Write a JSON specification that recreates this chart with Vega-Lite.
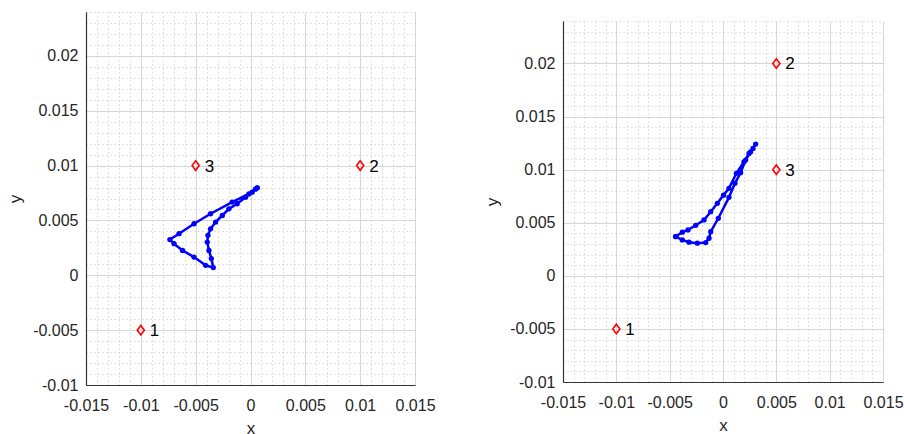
{
  "$schema": "https://vega.github.io/schema/vega-lite/v6.json",
  "padding": {"left": 6, "top": 4, "right": 0, "bottom": 0},
  "background": "white",
  "config": {
    "view": {"stroke": null},
    "font": "Liberation Sans",
    "axis": {
      "labelFont": "Liberation Sans",
      "labelFontSize": 16,
      "labelColor": "#262626",
      "titleFont": "Liberation Sans",
      "titleFontSize": 17,
      "titleFontWeight": "normal",
      "titleColor": "#262626",
      "domainColor": "#333333",
      "domainWidth": 1.2,
      "ticks": false,
      "labelOverlap": false,
      "labelFlush": false,
      "grid": true,
      "gridWidth": 1
    },
    "axisX": {"labelPadding": 12, "titlePadding": 7},
    "axisY": {"labelPadding": 8, "titlePadding": 8}
  },
  "spacing": 47,
  "datasets": {
    "curve": [
      {"panel": "A", "order": 1, "x": 0.00061, "y": 0.00797},
      {"panel": "A", "order": 2, "x": -0.00015, "y": 0.00742},
      {"panel": "A", "order": 3, "x": -0.00167, "y": 0.00667},
      {"panel": "A", "order": 4, "x": -0.00364, "y": 0.00561},
      {"panel": "A", "order": 5, "x": -0.00515, "y": 0.0047},
      {"panel": "A", "order": 6, "x": -0.00652, "y": 0.00379},
      {"panel": "A", "order": 7, "x": -0.00735, "y": 0.00326},
      {"panel": "A", "order": 8, "x": -0.00697, "y": 0.00288},
      {"panel": "A", "order": 9, "x": -0.0062, "y": 0.00227},
      {"panel": "A", "order": 10, "x": -0.00515, "y": 0.00166},
      {"panel": "A", "order": 11, "x": -0.00409, "y": 0.00091},
      {"panel": "A", "order": 12, "x": -0.00339, "y": 0.0007},
      {"panel": "A", "order": 13, "x": -0.00357, "y": 0.00152},
      {"panel": "A", "order": 14, "x": -0.00379, "y": 0.00227},
      {"panel": "A", "order": 15, "x": -0.00394, "y": 0.00303},
      {"panel": "A", "order": 16, "x": -0.00388, "y": 0.00364},
      {"panel": "A", "order": 17, "x": -0.00364, "y": 0.00424},
      {"panel": "A", "order": 18, "x": -0.00318, "y": 0.00485},
      {"panel": "A", "order": 19, "x": -0.00257, "y": 0.00545},
      {"panel": "A", "order": 20, "x": -0.00197, "y": 0.00606},
      {"panel": "A", "order": 21, "x": -0.00121, "y": 0.00652},
      {"panel": "A", "order": 22, "x": -0.00045, "y": 0.00712},
      {"panel": "A", "order": 23, "x": 0.00015, "y": 0.00758},
      {"panel": "A", "order": 24, "x": 0.00045, "y": 0.00785},
      {"panel": "A", "order": 25, "x": 0.00061, "y": 0.00797},
      {"panel": "B", "order": 1, "x": -0.00444, "y": 0.0037},
      {"panel": "B", "order": 2, "x": -0.00381, "y": 0.00411},
      {"panel": "B", "order": 3, "x": -0.00328, "y": 0.00432},
      {"panel": "B", "order": 4, "x": -0.00256, "y": 0.00476},
      {"panel": "B", "order": 5, "x": -0.00178, "y": 0.00526},
      {"panel": "B", "order": 6, "x": -0.00115, "y": 0.00604},
      {"panel": "B", "order": 7, "x": -0.00053, "y": 0.00683},
      {"panel": "B", "order": 8, "x": 0.00005, "y": 0.0076},
      {"panel": "B", "order": 9, "x": 0.00056, "y": 0.00824},
      {"panel": "B", "order": 10, "x": 0.00125, "y": 0.00965},
      {"panel": "B", "order": 11, "x": 0.00197, "y": 0.01074},
      {"panel": "B", "order": 12, "x": 0.00244, "y": 0.01153},
      {"panel": "B", "order": 13, "x": 0.00281, "y": 0.012},
      {"panel": "B", "order": 14, "x": 0.00306, "y": 0.01241},
      {"panel": "B", "order": 15, "x": 0.00259, "y": 0.01168},
      {"panel": "B", "order": 16, "x": 0.00212, "y": 0.0109},
      {"panel": "B", "order": 17, "x": 0.00165, "y": 0.00971},
      {"panel": "B", "order": 18, "x": 0.00112, "y": 0.00871},
      {"panel": "B", "order": 19, "x": 0.00056, "y": 0.00739},
      {"panel": "B", "order": 20, "x": -0.00044, "y": 0.00542},
      {"panel": "B", "order": 21, "x": -0.00115, "y": 0.00416},
      {"panel": "B", "order": 22, "x": -0.00131, "y": 0.00354},
      {"panel": "B", "order": 23, "x": -0.00162, "y": 0.00313},
      {"panel": "B", "order": 24, "x": -0.00241, "y": 0.00307},
      {"panel": "B", "order": 25, "x": -0.00319, "y": 0.00317},
      {"panel": "B", "order": 26, "x": -0.00382, "y": 0.00338},
      {"panel": "B", "order": 27, "x": -0.00444, "y": 0.0037}
    ],
    "anchors": [
      {"panel": "A", "x": -0.01, "y": -0.005, "label": "1"},
      {"panel": "A", "x": 0.01, "y": 0.01, "label": "2"},
      {"panel": "A", "x": -0.005, "y": 0.01, "label": "3"},
      {"panel": "B", "x": -0.01, "y": -0.005, "label": "1"},
      {"panel": "B", "x": 0.005, "y": 0.02, "label": "2"},
      {"panel": "B", "x": 0.005, "y": 0.01, "label": "3"}
    ]
  },
  "hconcat": [
    {
      "width": 329,
      "height": 373,
      "encoding": {
        "x": {
          "field": "x", "type": "quantitative", "title": "x",
          "scale": {"domain": [-0.015, 0.015], "nice": false, "zero": false},
          "axis": {
            "values": [-0.015,-0.014,-0.013,-0.012,-0.011,-0.01,-0.009,-0.008,-0.007,-0.006,-0.005,-0.004,-0.003,-0.002,-0.001,0,0.001,0.002,0.003,0.004,0.005,0.006,0.007,0.008,0.009,0.01,0.011,0.012,0.013,0.014,0.015],
            "labelExpr": "abs(round(datum.value*1000)) % 5 == 0 ? '' + datum.value : ''",
            "gridDash": {"condition": {"test": "abs(round(datum.value*1000)) % 5 == 0", "value": []}, "value": [1, 3]},
            "gridColor": {"condition": {"test": "abs(round(datum.value*1000)) % 5 == 0", "value": "#d6d6d6"}, "value": "#c4c4c4"}
          }
        },
        "y": {
          "field": "y", "type": "quantitative", "title": "y",
          "scale": {"domain": [-0.01, 0.024], "nice": false, "zero": false},
          "axis": {
            "values": [-0.01,-0.009,-0.008,-0.007,-0.006,-0.005,-0.004,-0.003,-0.002,-0.001,0,0.001,0.002,0.003,0.004,0.005,0.006,0.007,0.008,0.009,0.01,0.011,0.012,0.013,0.014,0.015,0.016,0.017,0.018,0.019,0.02,0.021,0.022,0.023,0.024],
            "labelExpr": "abs(round(datum.value*1000)) % 5 == 0 ? '' + datum.value : ''",
            "gridDash": {"condition": {"test": "abs(round(datum.value*1000)) % 5 == 0", "value": []}, "value": [1, 3]},
            "gridColor": {"condition": {"test": "abs(round(datum.value*1000)) % 5 == 0", "value": "#d6d6d6"}, "value": "#c4c4c4"}
          }
        }
      },
      "layer": [
        {
          "data": {"name": "curve"},
          "transform": [{"filter": "datum.panel == 'A'"}],
          "mark": {"type": "line", "color": "#0000ff", "strokeWidth": 2.5, "point": {"filled": true, "size": 28, "color": "#0000ff"}},
          "encoding": {"order": {"field": "order", "type": "quantitative"}}
        },
        {
          "data": {"name": "anchors"},
          "transform": [{"filter": "datum.panel == 'A'"}],
          "mark": {"type": "point", "shape": "M0,-1L0.75,0L0,1L-0.75,0Z", "size": 90, "filled": false, "color": "#ff0000", "strokeWidth": 1.6, "opacity": 1}
        },
        {
          "data": {"name": "anchors"},
          "transform": [{"filter": "datum.panel == 'A'"}],
          "mark": {"type": "text", "align": "left", "baseline": "middle", "dx": 9, "dy": 1, "fontSize": 17, "color": "#000000", "font": "Liberation Sans"},
          "encoding": {"text": {"field": "label"}}
        }
      ]
    },
    {
      "spacing": 0,
      "vconcat": [
        {
          "width": 320,
          "height": 1,
          "data": {"values": []},
          "mark": "point"
        },
        {
          "width": 320,
          "height": 361,
          "encoding": {
            "x": {
              "field": "x", "type": "quantitative", "title": "x",
              "scale": {"domain": [-0.015, 0.015], "nice": false, "zero": false},
              "axis": {
                "values": [-0.015,-0.014,-0.013,-0.012,-0.011,-0.01,-0.009,-0.008,-0.007,-0.006,-0.005,-0.004,-0.003,-0.002,-0.001,0,0.001,0.002,0.003,0.004,0.005,0.006,0.007,0.008,0.009,0.01,0.011,0.012,0.013,0.014,0.015],
                "labelExpr": "abs(round(datum.value*1000)) % 5 == 0 ? '' + datum.value : ''",
                "gridDash": {"condition": {"test": "abs(round(datum.value*1000)) % 5 == 0", "value": []}, "value": [1, 3]},
                "gridColor": {"condition": {"test": "abs(round(datum.value*1000)) % 5 == 0", "value": "#d6d6d6"}, "value": "#c4c4c4"}
              }
            },
            "y": {
              "field": "y", "type": "quantitative", "title": "y",
              "scale": {"domain": [-0.01, 0.024], "nice": false, "zero": false},
              "axis": {
                "values": [-0.01,-0.009,-0.008,-0.007,-0.006,-0.005,-0.004,-0.003,-0.002,-0.001,0,0.001,0.002,0.003,0.004,0.005,0.006,0.007,0.008,0.009,0.01,0.011,0.012,0.013,0.014,0.015,0.016,0.017,0.018,0.019,0.02,0.021,0.022,0.023,0.024],
                "labelExpr": "abs(round(datum.value*1000)) % 5 == 0 ? '' + datum.value : ''",
                "gridDash": {"condition": {"test": "abs(round(datum.value*1000)) % 5 == 0", "value": []}, "value": [1, 3]},
                "gridColor": {"condition": {"test": "abs(round(datum.value*1000)) % 5 == 0", "value": "#d6d6d6"}, "value": "#c4c4c4"}
              }
            }
          },
          "layer": [
            {
              "data": {"name": "curve"},
              "transform": [{"filter": "datum.panel == 'B'"}],
              "mark": {"type": "line", "color": "#0000ff", "strokeWidth": 2.5, "point": {"filled": true, "size": 28, "color": "#0000ff"}},
              "encoding": {"order": {"field": "order", "type": "quantitative"}}
            },
            {
              "data": {"name": "anchors"},
              "transform": [{"filter": "datum.panel == 'B'"}],
              "mark": {"type": "point", "shape": "M0,-1L0.75,0L0,1L-0.75,0Z", "size": 90, "filled": false, "color": "#ff0000", "strokeWidth": 1.6, "opacity": 1}
            },
            {
              "data": {"name": "anchors"},
              "transform": [{"filter": "datum.panel == 'B'"}],
              "mark": {"type": "text", "align": "left", "baseline": "middle", "dx": 9, "dy": 1, "fontSize": 17, "color": "#000000", "font": "Liberation Sans"},
              "encoding": {"text": {"field": "label"}}
            }
          ]
        }
      ]
    }
  ]
}
